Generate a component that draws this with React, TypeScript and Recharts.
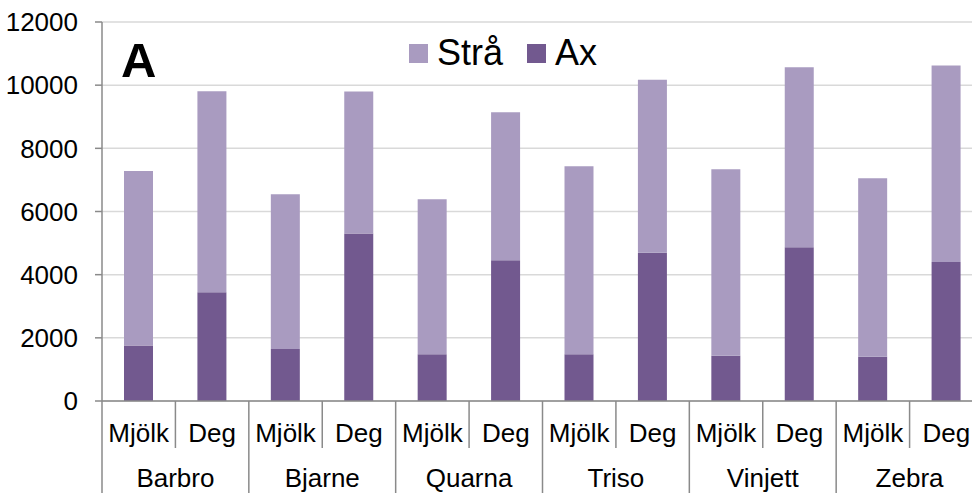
import { BarChart, Bar, XAxis, YAxis, CartesianGrid, Legend } from "recharts"

const varieties = ["Barbro", "Bjarne", "Quarna", "Triso", "Vinjett", "Zebra"]
const stages = ["Mjölk", "Deg"]
// values per bar, in order Barbro Mjölk, Barbro Deg, Bjarne Mjölk, ...
const axValues = [1760, 3440, 1650, 5300, 1480, 4460, 1480, 4690, 1430, 4870, 1400, 4400]
const straValues = [5520, 6370, 4900, 4500, 4910, 4680, 5950, 5480, 5910, 5700, 5650, 6220]
const yTicks = [0, 2000, 4000, 6000, 8000, 10000, 12000]

const FONT = "'Liberation Sans', Arial, sans-serif"
const AX_COLOR = "#72598f"
const STRA_COLOR = "#a99bc0"
const AXIS_COLOR = "#8a8a8a"
const GRID_COLOR = "#d9d9d9"

const chartData = varieties.flatMap((variety, vi) =>
  stages.map((stage, si) => ({
    key: `${variety}-${stage}`,
    variety,
    stage,
    ax: axValues[vi * stages.length + si],
    stra: straValues[vi * stages.length + si],
  }))
)

function CategoryTick(props: any) {
  const { x, y, payload } = props
  const row = chartData[payload.index]
  const half = payload.offset || 36.7
  const left = x - half
  const first = row.stage === stages[0]
  return (
    <g>
      <line
        x1={left}
        y1={y}
        x2={left}
        y2={first ? y + 92 : y + 47}
        stroke={AXIS_COLOR}
        strokeWidth={1.5}
      />
      <text x={x} y={y + 41} textAnchor="middle" fontSize={26} fill="#000" fontFamily={FONT}>
        {row.stage}
      </text>
      {first && (
        <text x={x + half} y={y + 86} textAnchor="middle" fontSize={26} fill="#000" fontFamily={FONT}>
          {row.variety}
        </text>
      )}
    </g>
  )
}

function LegendContent(props: any) {
  const items = [...(props.payload || [])].reverse()
  return (
    <div style={{ display: "flex", alignItems: "center", height: 40, fontFamily: FONT, fontSize: 36, lineHeight: "40px" }}>
      {items.map((item: any, i: number) => (
        <div key={item.value} style={{ display: "flex", alignItems: "center", marginLeft: i === 0 ? 0 : 24 }}>
          <span style={{ width: 19, height: 19, background: item.color, marginRight: 9, display: "inline-block" }} />
          <span style={{ color: "#000" }}>{item.value}</span>
        </div>
      ))}
    </div>
  )
}

export default function App() {
  return (
    <div style={{ position: "absolute", left: 0, top: 0, width: 972, height: 493, overflow: "hidden", background: "#fff" }}>
      <BarChart
        width={983}
        height={493}
        data={chartData}
        margin={{ top: 22, right: 0, bottom: 0, left: 0 }}
        barSize={29}
      >
        <CartesianGrid vertical={false} stroke={GRID_COLOR} strokeWidth={1.5} />
        <XAxis
          dataKey="key"
          interval={0}
          height={92}
          tickSize={0}
          tickMargin={0}
          tickLine={false}
          axisLine={{ stroke: AXIS_COLOR, strokeWidth: 1.5 }}
          tick={<CategoryTick />}
        />
        <YAxis
          width={102}
          domain={[0, 12000]}
          ticks={yTicks}
          tickSize={7}
          tickMargin={17}
          axisLine={{ stroke: AXIS_COLOR, strokeWidth: 1.5 }}
          tickLine={{ stroke: AXIS_COLOR, strokeWidth: 1.5 }}
          tick={{ fontSize: 26, fill: "#000", fontFamily: FONT }}
        />
        <Legend
          layout="horizontal"
          verticalAlign="middle"
          align="center"
          wrapperStyle={{ left: 409, top: 33 }}
          content={<LegendContent />}
        />
        <Bar dataKey="ax" name="Ax" stackId="a" fill={AX_COLOR} isAnimationActive={false} />
        <Bar dataKey="stra" name="Strå" stackId="a" fill={STRA_COLOR} isAnimationActive={false} />
      </BarChart>
      <svg style={{ position: "absolute", left: 0, top: 0 }} width={200} height={100}>
        <text x={121} y={77} fontSize={49} fontWeight="bold" fontFamily={FONT} fill="#000">
          A
        </text>
      </svg>
    </div>
  )
}
